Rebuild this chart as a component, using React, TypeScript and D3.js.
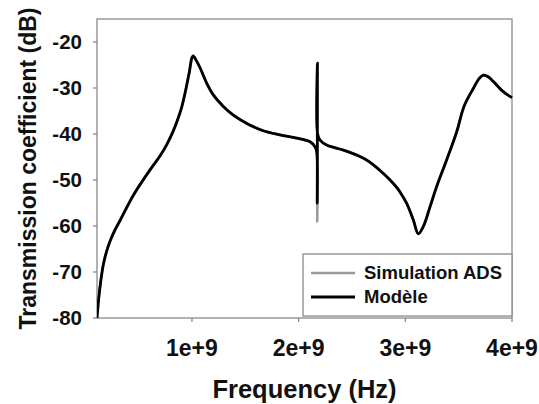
import React from "react";
import * as d3 from "d3";

// Frequency in GHz (converted to Hz when plotted)
const freqGHz = [
  0.11, 0.125, 0.145, 0.17, 0.2, 0.232, 0.28, 0.326, 0.451, 0.607, 0.7, 0.764,
  0.82, 0.858, 0.9, 0.94, 0.975, 1.0, 1.012, 1.04, 1.076, 1.139, 1.2, 1.294, 1.388, 1.514,
  1.669, 1.826, 1.982, 2.107, 2.154, 2.17, 2.174, 2.176, 2.178, 2.2, 2.263,
  2.419, 2.575, 2.66, 2.732, 2.794, 2.857, 2.919, 2.95, 3.013, 3.075, 3.122,
  3.169, 3.232, 3.294, 3.388, 3.482, 3.55, 3.637, 3.69, 3.731, 3.78, 3.825,
  3.918, 4.0,
];

const modeleDB = [
  -80, -76, -72, -68.3, -65.5, -63.3, -60.8, -58.8, -53.3, -47.8, -44.8, -42.3,
  -39.6, -37.4, -34.5, -30.6, -26.6, -23.4, -23, -24, -25.6, -29, -31.5, -34, -35.9, -37.7,
  -39.3, -40.2, -40.9, -41.7, -42.8, -44, -55, -24.6, -40, -41.3, -42.4,
  -43.5, -44.9, -46, -47.3, -48.6, -50, -51.6, -52.6, -55.1, -58.7, -61.7,
  -60.1, -55.8, -51.4, -45.6, -39.5, -34, -30.1, -28, -27.2, -27.6, -28.6,
  -30.8, -32.1,
];

const simulationDB = [
  -80, -76, -72, -68.3, -65.5, -63.3, -60.8, -58.8, -53.3, -47.8, -44.8, -42.3,
  -39.6, -37.4, -34.5, -30.6, -26.6, -23.4, -23, -24, -25.6, -29, -31.5, -34, -35.9, -37.7,
  -39.3, -40.2, -40.9, -41.7, -42.8, -44, -59, -24.6, -40, -41.3, -42.4,
  -43.5, -44.9, -46, -47.3, -48.6, -50, -51.6, -52.6, -55.1, -58.7, -61.7,
  -60.1, -55.8, -51.4, -45.6, -39.5, -34, -30.1, -28, -27.2, -27.6, -28.6,
  -30.8, -32.1,
];

const xTicks = [1e9, 2e9, 3e9, 4e9];
const xTickLabels = ["1e+9", "2e+9", "3e+9", "4e+9"];
const yTicks = [-80, -70, -60, -50, -40, -30, -20];

const seriesNames = ["Simulation ADS", "Modèle"];

const W = 539;
const H = 404;
const plot = { left: 97, right: 512, top: 19, bottom: 318 };
const FONT = "'Liberation Sans', Arial, Helvetica, sans-serif";

export default function App() {
  const x = d3.scaleLinear().domain([0.11e9, 4e9]).range([plot.left, plot.right]);
  const y = d3.scaleLinear().domain([-80, -15]).range([plot.bottom, plot.top]);

  const line = d3
    .line<[number, number]>()
    .x((d) => x(d[0]))
    .y((d) => y(d[1]))
    .curve(d3.curveCatmullRom.alpha(0.5));

  const simPts = freqGHz.map((f, i) => [f * 1e9, simulationDB[i]] as [number, number]);
  const modPts = freqGHz.map((f, i) => [f * 1e9, modeleDB[i]] as [number, number]);

  const axisColor = "#8a8a8a";

  return (
    <svg
      width={W}
      height={H}
      style={{ position: "absolute", left: 0, top: 0, background: "#fff" }}
      fontFamily={FONT}
    >
      <rect x={0} y={0} width={W} height={H} fill="#fff" />
      <defs>
        <clipPath id="plotclip">
          <rect
            x={plot.left}
            y={plot.top - 2}
            width={plot.right - plot.left + 1}
            height={plot.bottom - plot.top + 4}
          />
        </clipPath>
      </defs>

      {/* frame */}
      <rect
        x={plot.left}
        y={plot.top}
        width={plot.right - plot.left}
        height={plot.bottom - plot.top}
        fill="none"
        stroke={axisColor}
        strokeWidth={1.3}
      />

      {/* y ticks */}
      {yTicks.map((t) => (
        <g key={"y" + t}>
          <line x1={plot.left - 4} x2={plot.left} y1={y(t)} y2={y(t)} stroke={axisColor} strokeWidth={1.3} />
          <text
            x={82}
            y={y(t)}
            dy="0.36em"
            textAnchor="end"
            fontSize={20.5}
            fontWeight="bold"
            fill="#111"
          >
            {t}
          </text>
        </g>
      ))}

      {/* x ticks */}
      {xTicks.map((t, i) => (
        <g key={"x" + t}>
          <line x1={x(t)} x2={x(t)} y1={plot.bottom} y2={plot.bottom + 4} stroke={axisColor} strokeWidth={1.3} />
          <text
            x={x(t)}
            y={356}
            textAnchor="middle"
            fontSize={23}
            fontWeight="bold"
            fill="#111"
          >
            {xTickLabels[i]}
          </text>
        </g>
      ))}

      {/* axis titles */}
      <text
        x={(plot.left + plot.right) / 2}
        y={398}
        textAnchor="middle"
        fontSize={25.5}
        fontWeight="bold"
        fill="#111"
      >
        Frequency (Hz)
      </text>
      <text
        transform={`translate(36, ${(plot.top + plot.bottom) / 2}) rotate(-90)`}
        textAnchor="middle"
        fontSize={23}
        fontWeight="bold"
        fill="#111"
      >
        Transmission coefficient (dB)
      </text>

      {/* series */}
      <g clipPath="url(#plotclip)">
        <path d={line(simPts) || ""} fill="none" stroke="#9a9a9a" strokeWidth={2.6} strokeLinejoin="round" />
        <path d={line(modPts) || ""} fill="none" stroke="#000" strokeWidth={2.8} strokeLinejoin="round" />
      </g>

      {/* legend */}
      <g>
        <rect x={303} y={254} width={209} height={62} fill="#fff" stroke={axisColor} strokeWidth={1.3} />
        <line x1={311} x2={355} y1={273} y2={273} stroke="#9a9a9a" strokeWidth={2.6} />
        <text x={364} y={279} fontSize={18.5} fontWeight="bold" fill="#111">
          {seriesNames[0]}
        </text>
        <line x1={311} x2={355} y1={297} y2={297} stroke="#000" strokeWidth={2.8} />
        <text x={364} y={303} fontSize={18.5} fontWeight="bold" fill="#111">
          {seriesNames[1]}
        </text>
      </g>
    </svg>
  );
}
